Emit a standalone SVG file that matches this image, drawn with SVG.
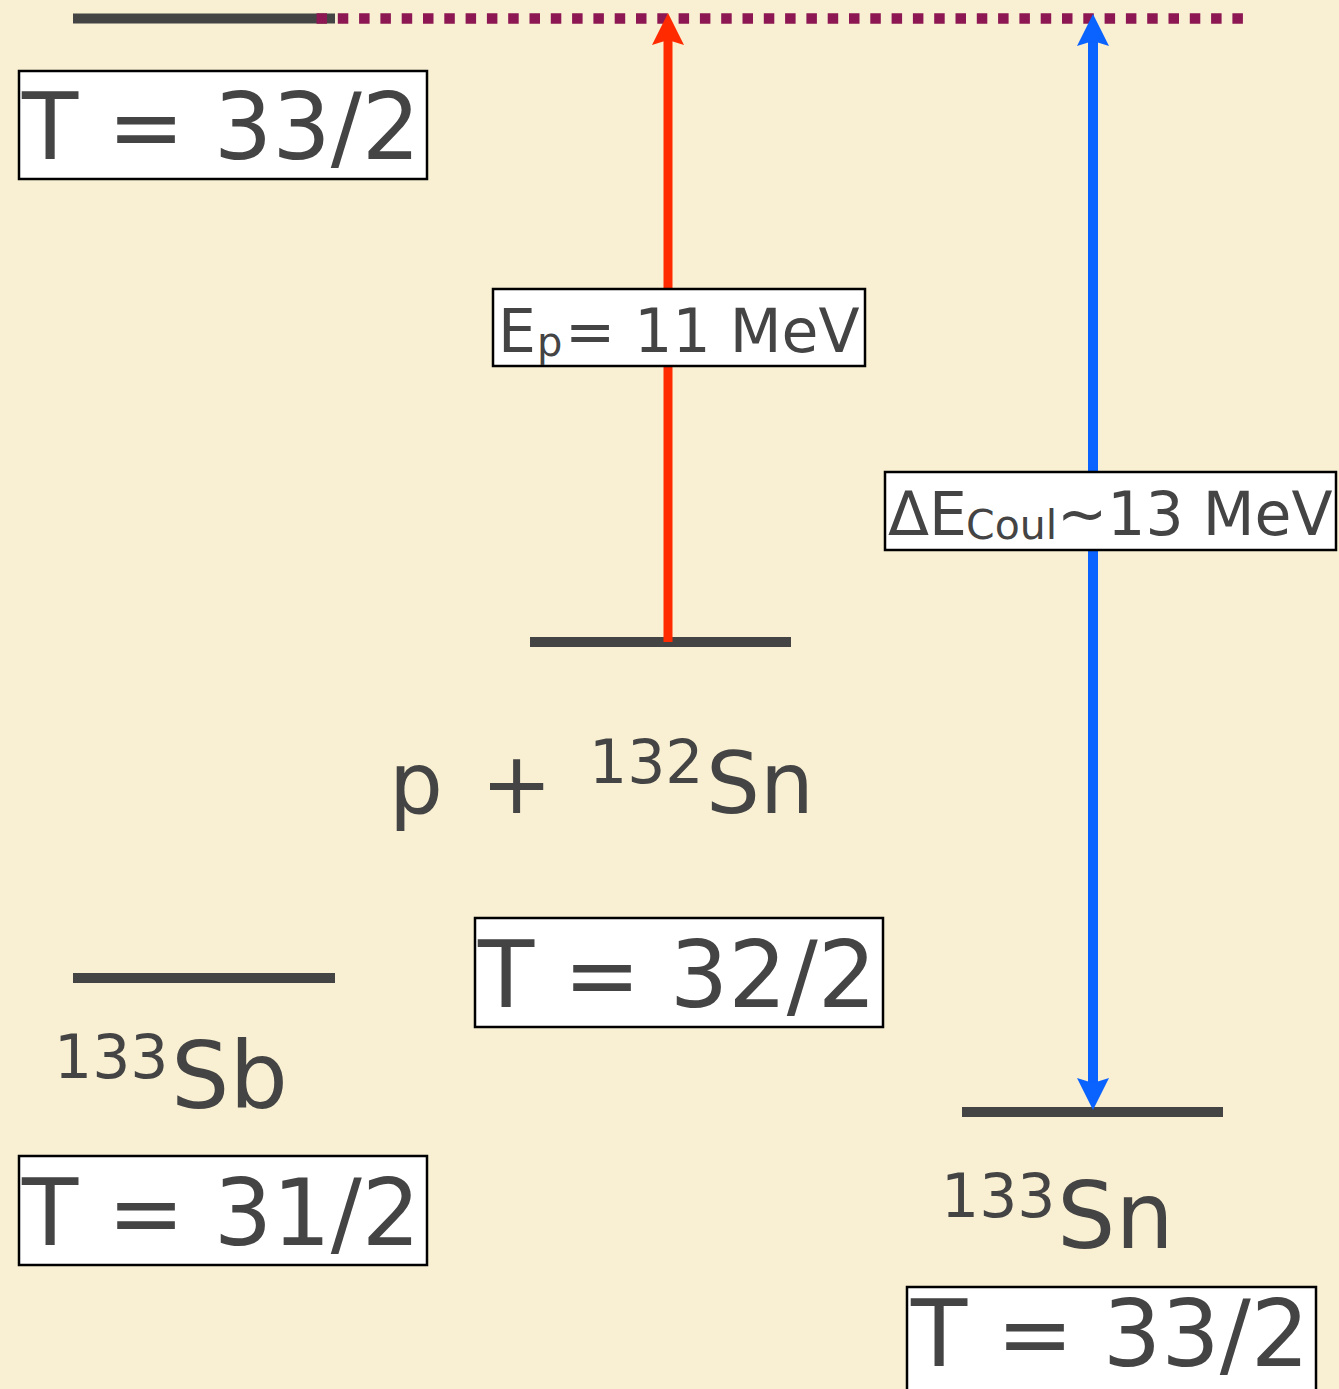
<svg xmlns="http://www.w3.org/2000/svg" width="1339" height="1389" viewBox="0 0 1339 1389">
  <style>
    .lvl { stroke: #444444; stroke-width: 10; fill: none; }
    .box { fill: #ffffff; stroke: #000000; stroke-width: 2.5; }
    .txt { font-family: "DejaVu Sans", "Liberation Sans", sans-serif; fill: #444444; }
    .big { font-size: 92px; }
  </style>
  <rect x="0" y="0" width="1339" height="1389" fill="#f9f0d3"/>

  <g id="level-t33-top">
    <line class="lvl" x1="73" y1="18.5" x2="335" y2="18.5"/>
    <line x1="316.5" y1="18.5" x2="1245" y2="18.5" stroke="#8c1752" stroke-width="10.5" stroke-dasharray="10.5 10.8"/>
    <rect class="box" x="19" y="71" width="408" height="108"/>
    <text class="txt big" x="22" y="159">T = 33/2</text>
  </g>

  <g id="level-p132sn">
    <line class="lvl" x1="530" y1="642" x2="791" y2="642"/>
    <text class="txt" y="813" font-size="85"><tspan x="389">p</tspan><tspan x="481">+</tspan><tspan x="589" y="783" font-size="60">132</tspan><tspan x="706" y="813">Sn</tspan></text>
    <rect class="box" x="475" y="918" width="408" height="109"/>
    <text class="txt big" x="478" y="1007">T = 32/2</text>
  </g>

  <g id="level-133sb">
    <line class="lvl" x1="73" y1="978" x2="335" y2="978"/>
    <text class="txt" y="1108" font-size="92"><tspan x="54" y="1078" font-size="60">133</tspan><tspan x="171" y="1108">Sb</tspan></text>
    <rect class="box" x="19" y="1156" width="408" height="109"/>
    <text class="txt big" x="22" y="1245">T = 31/2</text>
  </g>

  <g id="level-133sn">
    <line class="lvl" x1="962" y1="1112" x2="1223" y2="1112"/>
    <text class="txt" y="1248" font-size="92"><tspan x="941" y="1217" font-size="60">133</tspan><tspan x="1057" y="1248">Sn</tspan></text>
    <rect class="box" x="907" y="1287" width="409" height="120"/>
    <text class="txt big" x="911" y="1366">T = 33/2</text>
  </g>

  <g id="connectors">
    <g id="arrow-ep">
      <line x1="668" y1="642" x2="668" y2="40" stroke="#ff2a00" stroke-width="9"/>
      <path d="M668,13 L684,45 L668,40 L652,45 Z" fill="#ff2a00"/>
    </g>
    <g id="arrow-coul">
      <line x1="1093" y1="40" x2="1093" y2="1084" stroke="#0a62ff" stroke-width="10"/>
      <path d="M1093,14 L1109,46 L1093,41 L1077,46 Z" fill="#0a62ff"/>
      <path d="M1093,1110 L1109,1078 L1093,1083 L1077,1078 Z" fill="#0a62ff"/>
    </g>
  </g>

  <g id="label-ep">
    <rect class="box" x="493" y="289" width="372" height="77"/>
    <text class="txt" y="352" font-size="60"><tspan x="498">E</tspan><tspan x="537" y="356" font-size="40">p</tspan><tspan x="565" y="352">= 11 MeV</tspan></text>
  </g>

  <g id="label-coul">
    <rect class="box" x="885" y="472" width="451" height="78"/>
    <text class="txt" y="535" font-size="60"><tspan x="888">ΔE</tspan><tspan x="966" y="539" font-size="41">Coul</tspan><tspan x="1057" y="535">~13 MeV</tspan></text>
  </g>
</svg>
